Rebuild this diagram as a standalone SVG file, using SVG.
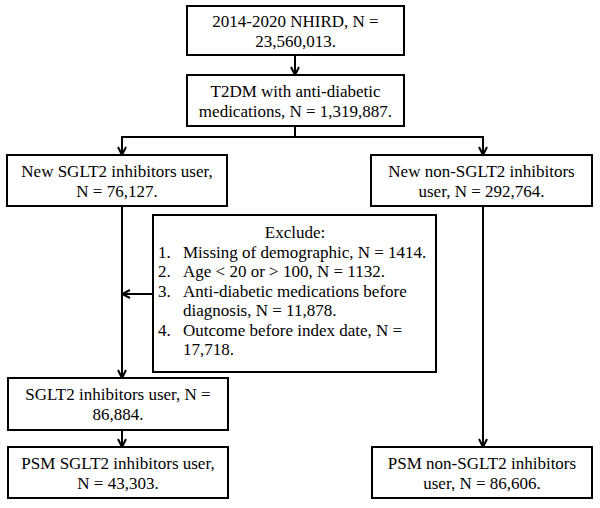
<svg xmlns="http://www.w3.org/2000/svg" width="600" height="508" viewBox="0 0 600 508">
<style>
.box{fill:#fff;stroke:#000;stroke-width:2}
text{font-family:"Liberation Serif","Times New Roman",serif;font-size:17px;fill:#000}
.c{text-anchor:middle}
.ln{fill:none;stroke:#000;stroke-width:2}
</style>
<defs>
<marker id="ah" viewBox="0 0 10 10" refX="9" refY="5" markerWidth="10" markerHeight="10" markerUnits="userSpaceOnUse" orient="auto">
<polyline points="1,1 9,5 1,9" fill="none" stroke="#000" stroke-width="2"/>
</marker>
</defs>
<rect width="600" height="508" fill="#fff"/>
<g id="connectors">
<line class="ln" x1="295" y1="55" x2="295" y2="75" marker-end="url(#ah)"/>
<polyline class="ln" points="295,126 295,137"/>
<line class="ln" x1="121" y1="137" x2="484" y2="137"/>
<line class="ln" x1="122" y1="137" x2="122" y2="155" marker-end="url(#ah)"/>
<line class="ln" x1="483" y1="137" x2="483" y2="155" marker-end="url(#ah)"/>
<line class="ln" x1="122" y1="206" x2="122" y2="378" marker-end="url(#ah)"/>
<line class="ln" x1="153" y1="294" x2="122" y2="294" marker-end="url(#ah)"/>
<line class="ln" x1="122" y1="430" x2="122" y2="447" marker-end="url(#ah)"/>
<line class="ln" x1="483" y1="206" x2="483" y2="447" marker-end="url(#ah)"/>
</g>
<g id="n1"><rect class="box" x="187" y="6" width="217" height="49"/>
<text class="c" x="295.5" y="27">2014-2020 NHIRD, N =</text>
<text class="c" x="295.5" y="47">23,560,013.</text></g>
<g id="n2"><rect class="box" x="187" y="75" width="217" height="51"/>
<text class="c" x="295.5" y="97">T2DM with anti-diabetic</text>
<text class="c" x="295.5" y="117">medications, N = 1,319,887.</text></g>
<g id="n3"><rect class="box" x="7" y="155" width="220" height="51"/>
<text class="c" x="117" y="177">New SGLT2 inhibitors user,</text>
<text class="c" x="117" y="197">N = 76,127.</text></g>
<g id="n4"><rect class="box" x="371" y="155" width="221" height="51"/>
<text class="c" x="481.5" y="177">New non-SGLT2 inhibitors</text>
<text class="c" x="481.5" y="197">user, N = 292,764.</text></g>
<g id="n5"><rect class="box" x="153" y="215" width="283" height="157"/>
<text class="c" x="295" y="238">Exclude:</text>
<text x="158" y="257.5">1.</text><text x="183" y="257.5">Missing of demographic, N = 1414.</text>
<text x="158" y="277">2.</text><text x="183" y="277">Age &lt; 20 or &gt; 100, N = 1132.</text>
<text x="158" y="296.5">3.</text><text x="183" y="296.5">Anti-diabetic medications before</text>
<text x="183" y="316">diagnosis, N = 11,878.</text>
<text x="158" y="335.5">4.</text><text x="183" y="335.5">Outcome before index date, N =</text>
<text x="183" y="355">17,718.</text></g>
<g id="n6"><rect class="box" x="8" y="378" width="220" height="52"/>
<text class="c" x="118" y="400">SGLT2 inhibitors user, N =</text>
<text class="c" x="118" y="420">86,884.</text></g>
<g id="n7"><rect class="box" x="8" y="447" width="220" height="51"/>
<text class="c" x="118" y="469">PSM SGLT2 inhibitors user,</text>
<text class="c" x="118" y="489">N = 43,303.</text></g>
<g id="n8"><rect class="box" x="372" y="447" width="220" height="51"/>
<text class="c" x="482" y="469">PSM non-SGLT2 inhibitors</text>
<text class="c" x="482" y="489">user, N = 86,606.</text></g>
</svg>
